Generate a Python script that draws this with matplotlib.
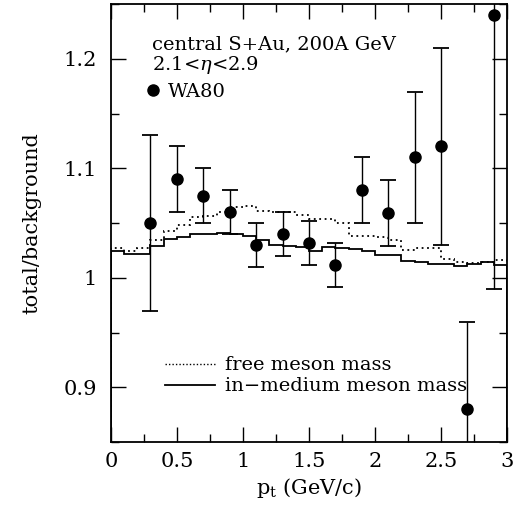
import numpy as np
import matplotlib.pyplot as plt
from matplotlib.lines import Line2D
from matplotlib.ticker import MultipleLocator

plt.rcParams['font.family'] = 'DejaVu Serif'
plt.rcParams['mathtext.fontset'] = 'dejavuserif'

# WA80 data points
pt_data = [0.3, 0.5, 0.7, 0.9, 1.1, 1.3, 1.5, 1.7, 1.9, 2.1, 2.3, 2.5, 2.7, 2.9]
ratio_data = [1.050, 1.090, 1.075, 1.060, 1.030, 1.040, 1.032, 1.012,
              1.080, 1.059, 1.110, 1.120, 0.880, 1.240]
ratio_err = [0.080, 0.030, 0.025, 0.020, 0.020, 0.020, 0.020, 0.020,
             0.030, 0.030, 0.060, 0.090, 0.080, 0.250]

# model histograms, bins of 0.1 GeV/c from 0 to 3
bin_edges = np.round(np.arange(31) * 0.1, 1)
free_mass = [1.0276, 1.0245, 1.0276, 1.0345, 1.0427, 1.048, 1.0558, 1.0567,
             1.060, 1.065, 1.0655, 1.0612, 1.060, 1.060, 1.057, 1.0537,
             1.0533, 1.0503, 1.038, 1.038, 1.037, 1.0345, 1.0255, 1.027,
             1.0276, 1.017, 1.014, 1.0133, 1.0148, 1.016]
medium_mass = [1.0245, 1.0215, 1.0215, 1.0294, 1.0352, 1.0376, 1.040, 1.0403,
               1.0406, 1.040, 1.0382, 1.0345, 1.030, 1.0294, 1.028, 1.0248,
               1.0279, 1.027, 1.026, 1.0245, 1.0212, 1.021, 1.0155, 1.014,
               1.0125, 1.0125, 1.011, 1.0125, 1.014, 1.012]

fig = plt.figure(figsize=(5.18, 5.14), dpi=100)
ax = fig.add_axes([0.214, 0.140, 0.765, 0.852])

ax.stairs(free_mass, bin_edges, color='black', lw=1.3, linestyle=(0, (1, 2)))
ax.stairs(medium_mass, bin_edges, color='black', lw=1.3)
ax.errorbar(pt_data, ratio_data, yerr=ratio_err, fmt='o', color='black',
            ms=8, elinewidth=1, capsize=6, capthick=1.3)

ax.set_xlim(0, 3)
ax.set_ylim(0.85, 1.25)
ax.xaxis.set_minor_locator(MultipleLocator(0.25))
ax.yaxis.set_minor_locator(MultipleLocator(0.05))
ax.set_xticks([0, 0.5, 1, 1.5, 2, 2.5, 3], ['0', '0.5', '1', '1.5', '2', '2.5', '3'])
ax.set_yticks([0.9, 1.0, 1.1, 1.2], ['0.9', '1', '1.1', '1.2'])
ax.tick_params(which='both', direction='in', top=True, right=True, labelsize=15)
ax.tick_params(which='major', length=11, width=1)
ax.tick_params(which='minor', length=6, width=1)
ax.tick_params(axis='x', pad=7)
ax.tick_params(axis='y', pad=10)
for s in ax.spines.values():
    s.set_linewidth(1.3)

ax.set_xlabel('p$_\\mathrm{t}$ (GeV/c)', fontsize=15)
ax.set_ylabel('total/background', fontsize=15, labelpad=16)

ax.text(0.104, 0.909, 'central S+Au, 200A GeV', transform=ax.transAxes,
        fontsize=14, va='center')
ax.text(0.104, 0.860, '2.1<$\\eta$<2.9', transform=ax.transAxes,
        fontsize=14, va='center')
leg1 = ax.legend([Line2D([], [], marker='o', color='black', ls='none', ms=8)],
                 ['WA80'], loc='center left', bbox_to_anchor=(0.081, 0.799),
                 frameon=False, fontsize=14, handlelength=1, handletextpad=0.3,
                 borderpad=0, borderaxespad=0)
ax.add_artist(leg1)
ax.legend([Line2D([], [], color='black', lw=1.0, ls=(0, (1, 1.5))),
           Line2D([], [], color='black', lw=1.3)],
          ['free meson mass', 'in\u2212medium meson mass'],
          loc='center left', bbox_to_anchor=(0.136, 0.151), frameon=False,
          fontsize=14, handlelength=2.6, handletextpad=0.5, labelspacing=0.15,
          borderpad=0, borderaxespad=0)

fig.savefig('out.png', dpi=100)
